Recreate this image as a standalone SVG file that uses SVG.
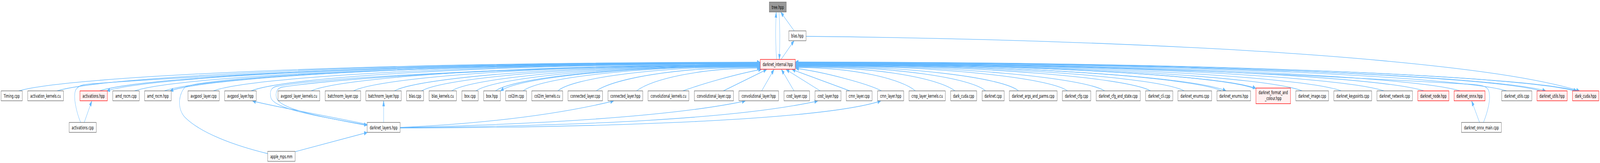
<svg xmlns="http://www.w3.org/2000/svg" width="7182" height="417" viewBox="0 0 7182 417" preserveAspectRatio="none">
<defs>
<style>
:root{width:100vw;height:100vh}
.n rect{fill:#ffffff;stroke:#666666;stroke-width:1.3}
.r rect{fill:#fff0f0;stroke:#ff0000;stroke-width:1.3}
.f rect{fill:#999999;stroke:#666666;stroke-width:1.3}
text{font-family:"DejaVu Sans","Liberation Sans",sans-serif;font-size:13px;text-anchor:middle;fill:#000000}
#edges path{fill:none;stroke:#63b8ff;stroke-width:1.3;marker-end:url(#a)}
</style>
<marker id="a" markerWidth="16" markerHeight="12" refX="13" refY="4.7" orient="auto" markerUnits="userSpaceOnUse" overflow="visible">
<path d="M0,0 L13,4.7 L0,9.4 Z" fill="#63b8ff" stroke="#63b8ff" stroke-width="1"/>
</marker>
</defs>
<rect x="0" y="0" width="7182" height="417" fill="#ffffff"/>
<g id="edges">
<path d="M3486,152 C3481,115 3481,70 3484,31.5"/>
<path d="M3497,31.5 C3501,70 3501,115 3498,152"/>
<path d="M3565,79 L3505,31.5"/>
<path d="M3506,152 L3564,104.5"/>
<path d="M3618,93 C4500,98 5500,118 6200,155 C6600,176 6900,200 7090,232.5"/>
<path d="M84,232.5 C300,196 1615,159 3412,159"/>
<path d="M256,232.5 C461,196 1708,159.5 3412,159.5"/>
<path d="M447,232.5 C640,196 1811,160 3412,160"/>
<path d="M362,313.3 C345,290 326,248 340,230 C352,218 372,216 420,214 C900,194 1800,162 3412,161"/>
<path d="M604,232.5 C787,197 1896,161.5 3412,161.5"/>
<path d="M738,232.5 C912,197 1968,162.5 3412,162.5"/>
<path d="M1201.5,393 C1050,372 900,340 830,300 C790,275 805,236 833,222 C900,205 1500,168 3412,163"/>
<path d="M958,232.5 C1118,198 2087,163.5 3412,163.5"/>
<path d="M1127,232.5 C1276,198 2178,164 3412,164"/>
<path d="M1648,321 C1450,300 1255,280 1241,250 C1235,235 1245,226 1265,223 C1600,194 2500,168 3412,165"/>
<path d="M1397,232.5 C1528,199 2324,165.5 3412,165.5"/>
<path d="M1587,232.5 C1706,199 2427,166 3412,166"/>
<path d="M1770,232.5 C1877,199.5 2526,166.5 3412,166.5"/>
<path d="M1892,232.5 C1991,200 2591,167 3412,167"/>
<path d="M2027,232.5 C2117,200 2664,167.5 3412,167.5"/>
<path d="M2136,232.5 C2219,200 2723,168 3412,168"/>
<path d="M2224,232.5 C2301,200.5 2771,168.5 3412,168.5"/>
<path d="M2348,232.5 C2417,201 2838,169.5 3412,169.5"/>
<path d="M2504,232.5 C2563,201.5 2922,170.5 3412,170.5"/>
<path d="M2676,232.5 C2756,202.5 3016,172 3412,172"/>
<path d="M2857,232.5 C2927,203 3137,174 3412,174"/>
<path d="M3065,232.5 C3150,215 3300,190 3418,177.5"/>
<path d="M3247,232.5 L3441,178"/>
<path d="M3419,232.5 L3474,178"/>
<path d="M3564,232.5 L3508,178"/>
<path d="M3682,232.5 L3529,178"/>
<path d="M3815,232.5 L3556,178"/>
<path d="M3957,232.5 C3900,215 3700,184 3572,175"/>
<path d="M4109,232.5 C4049,203 3839,172.5 3570,172.5"/>
<path d="M4287,232.5 C4217,202 3957,171 3570,171"/>
<path d="M4424,232.5 C4364,201 4031,169.5 3570,169.5"/>
<path d="M4572,232.5 C4507,200.5 4111,168.5 3570,168.5"/>
<path d="M4792,232.5 C4713,200 4230,167.5 3570,167.5"/>
<path d="M4959,232.5 C4869,200 4320,167 3570,167"/>
<path d="M5165,232.5 C5061,199.5 4431,166.5 3570,166.5"/>
<path d="M5316,232.5 C5203,199 4513,166 3570,166"/>
<path d="M5483,232.5 C5359,199 4603,165 3570,165"/>
<path d="M5628,226 C5494,195 4681,164 3570,164"/>
<path d="M5845,232.5 C5697,198 4798,163.5 3570,163.5"/>
<path d="M6020,232.5 C5861,198 4893,163 3570,163"/>
<path d="M6212,232.5 C6040,197.5 4997,162.5 3570,162.5"/>
<path d="M6391,232.5 C6208,197 5093,162 3570,162"/>
<path d="M6554,232.5 C6360,197 5181,161.5 3570,161.5"/>
<path d="M6659,313.3 C6675,290 6697,250 6680,229 C6668,219 6645,218 6610,216 C6000,196 4900,162 3570,161"/>
<path d="M6763,232.5 C6555,196.5 5294,160.5 3570,160.5"/>
<path d="M6915,232.5 C6698,196 5376,159.5 3570,159.5"/>
<path d="M7067,232.5 C6840,195.5 5458,158.5 3570,158.5"/>
<path d="M3412,160.5 C1829,160.5 671,196.5 480,232.5"/>
<path d="M3412,162 C1982,162 936,197 764,232.5"/>
<path d="M3412,169 C2783,169 2323,200.7 2247,232.5"/>
<path d="M3412,164.5 C2500,169 1500,194 1240,221 C1220,224 1208,232 1216,250 C1230,280 1450,300 1648,320"/>
<path d="M3570,165.5 C4614,165.5 5377,199 5503,232.5"/>
<path d="M3570,164.5 C4686,164.5 5503,195.3 5637,226"/>
<path d="M3570,160 C5389,160 6719,196.2 6938,232.5"/>
<path d="M3570,159 C5464,159 6850,195.7 7078,232.5"/>
<path d="M378,313.3 L412,258.5"/>
<path d="M1325,388 L1648,339"/>
<path d="M1648,318 C1500,300 1250,275 1134,258.5"/>
<path d="M1722,313.3 L1722,258.5"/>
<path d="M1796,326 C2100,318 2450,300 2754,258.5"/>
<path d="M1796,326.5 C2400,318 3000,300 3345,258.5"/>
<path d="M1796,327 C2600,322 3300,305 3670,258.5"/>
<path d="M1796,327.5 C2800,326 3700,305 3953,258.5"/>
<path d="M6641.5,313.3 L6606,258.5"/>
</g>
<g id="node-tree" class="f"><rect x="3453" y="5.3" width="76.5" height="25.3"/><text x="3491.2" y="22.6">tree.hpp</text></g>
<g id="node-blas-hpp" class="n"><rect x="3541" y="79" width="77" height="25.3"/><text x="3579.5" y="96.3">blas.hpp</text></g>
<g id="node-darknet-internal" class="r"><rect x="3412.5" y="152" width="157.5" height="25.3"/><text x="3491.2" y="169.3">darknet_internal.hpp</text></g>
<g id="node-timing" class="n"><rect x="5" y="232.5" width="95" height="25.3"/><text x="52.5" y="249.8">Timing.cpp</text></g>
<g id="node-activation-kernels" class="n"><rect x="124.5" y="232.5" width="160.2" height="25.3"/><text x="204.6" y="249.8">activation_kernels.cu</text></g>
<g id="node-activations-hpp" class="r"><rect x="359" y="232.5" width="123" height="25.3"/><text x="420.5" y="249.8">activations.hpp</text></g>
<g id="node-amd-rocm-cpp" class="n"><rect x="506.3" y="232.5" width="119" height="25.3"/><text x="565.8" y="249.8">amd_rocm.cpp</text></g>
<g id="node-amd-rocm-hpp" class="n"><rect x="649" y="232.5" width="119.4" height="25.3"/><text x="708.7" y="249.8">amd_rocm.hpp</text></g>
<g id="node-avgpool-cpp" class="n"><rect x="843.8" y="232.5" width="140.2" height="25.3"/><text x="913.9" y="249.8">avgpool_layer.cpp</text></g>
<g id="node-avgpool-hpp" class="n"><rect x="1008.3" y="232.5" width="142" height="25.3"/><text x="1079.3" y="249.8">avgpool_layer.hpp</text></g>
<g id="node-avgpool-kernels" class="n"><rect x="1248.2" y="232.5" width="187.2" height="25.3"/><text x="1341.8" y="249.8">avgpool_layer_kernels.cu</text></g>
<g id="node-batchnorm-cpp" class="n"><rect x="1459.9" y="232.5" width="158.8" height="25.3"/><text x="1539.3" y="249.8">batchnorm_layer.cpp</text></g>
<g id="node-batchnorm-hpp" class="n"><rect x="1642.4" y="232.5" width="158.6" height="25.3"/><text x="1721.7" y="249.8">batchnorm_layer.hpp</text></g>
<g id="node-blas-cpp" class="n"><rect x="1825" y="232.5" width="76.3" height="25.3"/><text x="1863.2" y="249.8">blas.cpp</text></g>
<g id="node-blas-kernels" class="n"><rect x="1925.9" y="232.5" width="122.8" height="25.3"/><text x="1987.3" y="249.8">blas_kernels.cu</text></g>
<g id="node-box-cpp" class="n"><rect x="2073.2" y="232.5" width="73.2" height="25.3"/><text x="2109.8" y="249.8">box.cpp</text></g>
<g id="node-box-hpp" class="n"><rect x="2171" y="232.5" width="75" height="25.3"/><text x="2208.5" y="249.8">box.hpp</text></g>
<g id="node-col2im-cpp" class="n"><rect x="2270" y="232.5" width="93.4" height="25.3"/><text x="2316.7" y="249.8">col2im.cpp</text></g>
<g id="node-col2im-kernels" class="n"><rect x="2387" y="232.5" width="139" height="25.3"/><text x="2456.5" y="249.8">col2im_kernels.cu</text></g>
<g id="node-connected-cpp" class="n"><rect x="2549.6" y="232.5" width="154.9" height="25.3"/><text x="2627" y="249.8">connected_layer.cpp</text></g>
<g id="node-connected-hpp" class="n"><rect x="2729" y="232.5" width="156.3" height="25.3"/><text x="2807.2" y="249.8">connected_layer.hpp</text></g>
<g id="node-conv-kernels" class="n"><rect x="2908.9" y="232.5" width="183.1" height="25.3"/><text x="3000.5" y="249.8">convolutional_kernels.cu</text></g>
<g id="node-conv-cpp" class="n"><rect x="3116.5" y="232.5" width="175.9" height="25.3"/><text x="3204.5" y="249.8">convolutional_layer.cpp</text></g>
<g id="node-conv-hpp" class="n"><rect x="3317" y="232.5" width="177.6" height="25.3"/><text x="3405.8" y="249.8">convolutional_layer.hpp</text></g>
<g id="node-cost-cpp" class="n"><rect x="3519.2" y="232.5" width="114.8" height="25.3"/><text x="3576.6" y="249.8">cost_layer.cpp</text></g>
<g id="node-cost-hpp" class="n"><rect x="3658.5" y="232.5" width="116.5" height="25.3"/><text x="3716.8" y="249.8">cost_layer.hpp</text></g>
<g id="node-crnn-cpp" class="n"><rect x="3798.7" y="232.5" width="116" height="25.3"/><text x="3856.7" y="249.8">crnn_layer.cpp</text></g>
<g id="node-crnn-hpp" class="n"><rect x="3939.3" y="232.5" width="117.4" height="25.3"/><text x="3998" y="249.8">crnn_layer.hpp</text></g>
<g id="node-crop-kernels" class="n"><rect x="4080.4" y="232.5" width="162.9" height="25.3"/><text x="4161.9" y="249.8">crop_layer_kernels.cu</text></g>
<g id="node-dark-cuda-cpp" class="n"><rect x="4267.4" y="232.5" width="116.5" height="25.3"/><text x="4325.7" y="249.8">dark_cuda.cpp</text></g>
<g id="node-darknet-cpp" class="n"><rect x="4408.5" y="232.5" width="99.1" height="25.3"/><text x="4458" y="249.8">darknet.cpp</text></g>
<g id="node-args-parms" class="n"><rect x="4530.8" y="232.5" width="214.2" height="25.3"/><text x="4637.9" y="249.8">darknet_args_and_parms.cpp</text></g>
<g id="node-cfg-cpp" class="n"><rect x="4768.8" y="232.5" width="127.2" height="25.3"/><text x="4832.4" y="249.8">darknet_cfg.cpp</text></g>
<g id="node-cfg-state" class="n"><rect x="4920.5" y="232.5" width="197.8" height="25.3"/><text x="5019.4" y="249.8">darknet_cfg_and_state.cpp</text></g>
<g id="node-cli" class="n"><rect x="5142.4" y="232.5" width="121.9" height="25.3"/><text x="5203.4" y="249.8">darknet_cli.cpp</text></g>
<g id="node-enums-cpp" class="n"><rect x="5287.5" y="232.5" width="151.3" height="25.3"/><text x="5363.2" y="249.8">darknet_enums.cpp</text></g>
<g id="node-enums-hpp" class="n"><rect x="5462.5" y="232.5" width="150.9" height="25.3"/><text x="5538" y="249.8">darknet_enums.hpp</text></g>
<g id="node-format-colour" class="r"><rect x="5637.5" y="225.3" width="155.4" height="40"/><text x="5715.2" y="240.6">darknet_format_and</text><text x="5715.2" y="255.6">_colour.hpp</text></g>
<g id="node-image" class="n"><rect x="5816.5" y="232.5" width="146.9" height="25.3"/><text x="5890" y="249.8">darknet_image.cpp</text></g>
<g id="node-keypoints" class="n"><rect x="5987.5" y="232.5" width="169.5" height="25.3"/><text x="6072.3" y="249.8">darknet_keypoints.cpp</text></g>
<g id="node-network" class="n"><rect x="6180.8" y="232.5" width="159.4" height="25.3"/><text x="6260.5" y="249.8">darknet_network.cpp</text></g>
<g id="node-node-hpp" class="r"><rect x="6364.3" y="232.5" width="139.3" height="25.3"/><text x="6434" y="249.8">darknet_node.hpp</text></g>
<g id="node-onnx-hpp" class="r"><rect x="6527.2" y="232.5" width="138.8" height="25.3"/><text x="6596.6" y="249.8">darknet_onnx.hpp</text></g>
<g id="node-utils-cpp" class="n"><rect x="6740.7" y="232.5" width="135.3" height="25.3"/><text x="6808.3" y="249.8">darknet_utils.cpp</text></g>
<g id="node-utils-hpp" class="r"><rect x="6899.3" y="232.5" width="135.4" height="25.3"/><text x="6967" y="249.8">darknet_utils.hpp</text></g>
<g id="node-dark-cuda-hpp" class="r"><rect x="7058.7" y="232.5" width="118" height="25.3"/><text x="7117.7" y="249.8">dark_cuda.hpp</text></g>
<g id="node-activations-cpp" class="n"><rect x="310.4" y="313.3" width="121.6" height="25.3"/><text x="371.2" y="330.6">activations.cpp</text></g>
<g id="node-darknet-layers" class="n"><rect x="1648.1" y="313.3" width="147.8" height="25.3"/><text x="1722" y="330.6">darknet_layers.hpp</text></g>
<g id="node-onnx-main" class="n"><rect x="6560.3" y="313.3" width="179" height="25.3"/><text x="6649.8" y="330.6">darknet_onnx_main.cpp</text></g>
<g id="node-apple-mps" class="n"><rect x="1201.5" y="387.3" width="123.3" height="25.3"/><text x="1263.1" y="404.6">apple_mps.mm</text></g>
</svg>
